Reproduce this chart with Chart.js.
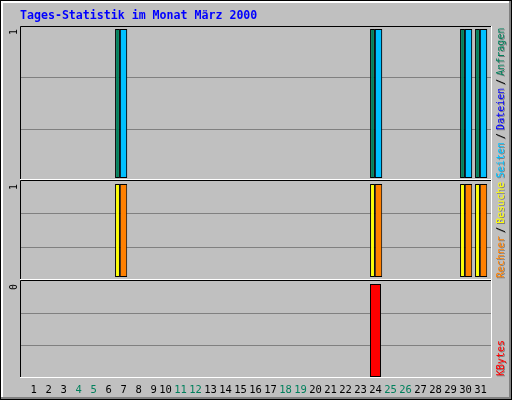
<!DOCTYPE html>
<html>
<head>
<meta charset="utf-8">
<script src="https://cdn.jsdelivr.net/npm/chart.js@4/dist/chart.umd.min.js"></script>
<style>
	html, body { margin: 0; padding: 0; background: #c0c0c0; }
	#wrap { width: 512px; height: 400px; }
</style>
</head>
<body>
<div id="wrap"><canvas id="chart" width="512" height="400"></canvas></div>
<script>
// Tages-Statistik März 2000
const days = ['1', '2', '3', '4', '5', '6', '7', '8', '9', '10', '11', '12', '13', '14', '15', '16',
	'17', '18', '19', '20', '21', '22', '23', '24', '25', '26', '27', '28', '29', '30', '31'];

const anfragen = [0, 0, 0, 0, 0, 0, 1, 0, 0, 0, 0, 0, 0, 0, 0, 0, 0, 0, 0, 0, 0, 0, 0, 1, 0, 0, 0, 0, 0, 1, 1];
const dateien  = [0, 0, 0, 0, 0, 0, 1, 0, 0, 0, 0, 0, 0, 0, 0, 0, 0, 0, 0, 0, 0, 0, 0, 1, 0, 0, 0, 0, 0, 1, 1];
const seiten   = [0, 0, 0, 0, 0, 0, 1, 0, 0, 0, 0, 0, 0, 0, 0, 0, 0, 0, 0, 0, 0, 0, 0, 1, 0, 0, 0, 0, 0, 1, 1];
const besuche  = [0, 0, 0, 0, 0, 0, 1, 0, 0, 0, 0, 0, 0, 0, 0, 0, 0, 0, 0, 0, 0, 0, 0, 1, 0, 0, 0, 0, 0, 1, 1];
const rechner  = [0, 0, 0, 0, 0, 0, 1, 0, 0, 0, 0, 0, 0, 0, 0, 0, 0, 0, 0, 0, 0, 0, 0, 1, 0, 0, 0, 0, 0, 1, 1];
const kbytes   = [0, 0, 0, 0, 0, 0, 0, 0, 0, 0, 0, 0, 0, 0, 0, 0, 0, 0, 0, 0, 0, 0, 0, 0.3, 0, 0, 0, 0, 0, 0, 0];

const colors = {
	anfragen: '#00805c',
	dateien: '#0000ff',
	seiten: '#00c0ff',
	besuche: '#ffff00',
	rechner: '#ff8000',
	kbytes: '#ff0000',
};

const MONO = '"DejaVu Sans Mono", "Liberation Mono", monospace';

// value range of a panel so the bars leave a small gap to the frame
function panelRange(maxVal, height, padTop, padBottom) {
	const unit = maxVal / (height - padTop - padBottom);
	return {min: -padBottom * unit, max: maxVal + padTop * unit};
}

const topMax = Math.max(...anfragen, ...dateien, ...seiten);
const midMax = Math.max(...besuche, ...rechner);
const botMax = Math.max(...kbytes);

function yScale(maxVal, order, height, padTop, padBottom) {
	const r = panelRange(maxVal, height, padTop, padBottom);
	return {
		type: 'linear',
		position: 'left',
		stack: 'panels',
		stackWeight: height,
		weight: order,
		stacked: false,
		min: r.min,
		max: r.max,
		grid: {display: false, drawTicks: false},
		border: {display: false},
		afterBuildTicks: (scale) => {
			scale.ticks = [{value: maxVal}];
		},
		afterFit: (scale) => {
			scale.width = 23;
		},
		ticks: {
			minRotation: 90,
			maxRotation: 90,
			padding: 9,
			color: '#000',
			font: {family: MONO, size: 10},
			callback: (v) => String(Math.floor(v)),
		},
	};
}

function bar(label, values, color, stack, yAxisID, pct) {
	return {
		label: label,
		data: values,
		backgroundColor: color,
		borderColor: '#000',
		borderWidth: 1,
		borderSkipped: false,
		stack: stack,
		yAxisID: yAxisID,
		categoryPercentage: 0.8,
		barPercentage: pct,
	};
}

function drawUp(ctx, parts, x, y) {
	ctx.save();
	ctx.translate(x, y);
	ctx.rotate(-Math.PI / 2);
	ctx.font = '10px ' + MONO;
	ctx.textBaseline = 'alphabetic';
	ctx.textAlign = 'left';
	let pos = 0;
	parts.forEach((p, i) => {
		if (i > 0) {
			pos += 3;
			ctx.fillStyle = '#808080';
			ctx.fillText('/', pos - 1, 1);
			ctx.fillStyle = '#000';
			ctx.fillText('/', pos, 0);
			pos += 9;
		}
		ctx.fillStyle = '#808080';
		ctx.fillText(p.text, pos - 1, 1);
		ctx.fillStyle = p.color;
		ctx.fillText(p.text, pos, 0);
		pos += ctx.measureText(p.text).width;
	});
	ctx.restore();
}

const framePlugin = {
	id: 'frame',
	beforeDraw: function (chart) {
		const ctx = chart.ctx;
		const area = chart.chartArea;
		const W = chart.width, H = chart.height;

		ctx.save();
		ctx.fillStyle = '#c0c0c0';
		ctx.fillRect(0, 0, W, H);

		// outer 3d border
		ctx.fillStyle = '#ffffff';
		ctx.fillRect(1, 1, W - 2, 2);
		ctx.fillRect(1, 1, 2, H - 2);
		ctx.fillStyle = '#808080';
		ctx.fillRect(W - 3, 1, 2, H - 2);
		ctx.fillRect(1, H - 3, W - 2, 2);
		ctx.strokeStyle = '#000';
		ctx.lineWidth = 1;
		ctx.strokeRect(0.5, 0.5, W - 1, H - 1);

		// panels
		const left = area.left - 3;
		const right = area.right + 4;
		['yTop', 'yMid', 'yBot'].forEach((id) => {
			const s = chart.scales[id];

			ctx.strokeStyle = '#808080';
			for (let k = 1; k < 3; k++) {
				const gy = Math.round(s.top + (s.bottom - s.top) * k / 3) + 0.5;
				ctx.beginPath();
				ctx.moveTo(left, gy);
				ctx.lineTo(right, gy);
				ctx.stroke();
			}

			ctx.strokeStyle = '#ffffff';
			ctx.beginPath();
			ctx.moveTo(left, s.bottom - 0.5);
			ctx.lineTo(right - 0.5, s.bottom - 0.5);
			ctx.lineTo(right - 0.5, s.top);
			ctx.stroke();

			ctx.strokeStyle = '#000';
			ctx.beginPath();
			ctx.moveTo(left + 0.5, s.bottom - 1);
			ctx.lineTo(left + 0.5, s.top + 0.5);
			ctx.lineTo(right - 1, s.top + 0.5);
			ctx.stroke();
		});

		// title
		ctx.fillStyle = '#0000ff';
		ctx.font = 'bold 11.6px ' + MONO;
		ctx.textBaseline = 'alphabetic';
		ctx.fillText('Tages-Statistik im Monat März 2000', 20, 19);
		ctx.restore();
	},
	afterDraw: function (chart) {
		const ctx = chart.ctx;
		const x = 504;
		drawUp(ctx, [
			{text: 'Seiten', color: colors.seiten},
			{text: 'Dateien', color: colors.dateien},
			{text: 'Anfragen', color: colors.anfragen},
		], x, chart.scales.yTop.bottom - 2);
		drawUp(ctx, [
			{text: 'Rechner', color: colors.rechner},
			{text: 'Besuche', color: colors.besuche},
		], x, chart.scales.yMid.bottom - 2);
		drawUp(ctx, [
			{text: 'KBytes', color: colors.kbytes},
		], x, chart.scales.yBot.bottom - 2);
	},
};

const kbBar = bar('KBytes', kbytes, colors.kbytes, 'c', 'yBot', 0.92);
kbBar.grouped = false;

new Chart(document.getElementById('chart'), {
	type: 'bar',
	data: {
		labels: days,
		datasets: [
			bar('Anfragen', anfragen, colors.anfragen, 'a', 'yTop', 0.8),
			bar('Seiten', seiten, colors.seiten, 'b', 'yTop', 1.23),
			bar('Dateien', dateien, colors.dateien, 'b', 'yTop', 1.23),
			bar('Besuche', besuche, colors.besuche, 'a', 'yMid', 0.8),
			bar('Rechner', rechner, colors.rechner, 'b', 'yMid', 1.23),
			kbBar,
		],
	},
	options: {
		responsive: false,
		animation: false,
		devicePixelRatio: 1,
		layout: {
			padding: {left: 0, top: 26, right: 24, bottom: 0},
		},
		plugins: {
			legend: {display: false},
			tooltip: {enabled: false},
		},
		scales: {
			x: {
				type: 'category',
				grid: {display: false, drawTicks: false},
				border: {display: false},
				afterFit: (scale) => {
					scale.height = 22;
				},
				ticks: {
					autoSkip: false,
					maxRotation: 0,
					padding: 6,
					font: {family: MONO, size: 10.5},
					callback: function (v, i) {
						return days[i].padStart(2, ' ');
					},
					color: (c) => {
						const wd = new Date(2000, 2, c.index + 1).getDay();
						return (wd === 0 || wd === 6) ? colors.anfragen : '#000';
					},
				},
			},
			yBot: yScale(botMax, 1, 98, 4, 1),
			yMid: yScale(midMax, 2, 100, 4, 3),
			yTop: yScale(topMax, 3, 154, 3, 2),
		},
	},
	plugins: [framePlugin],
});
</script>
</body>
</html>
